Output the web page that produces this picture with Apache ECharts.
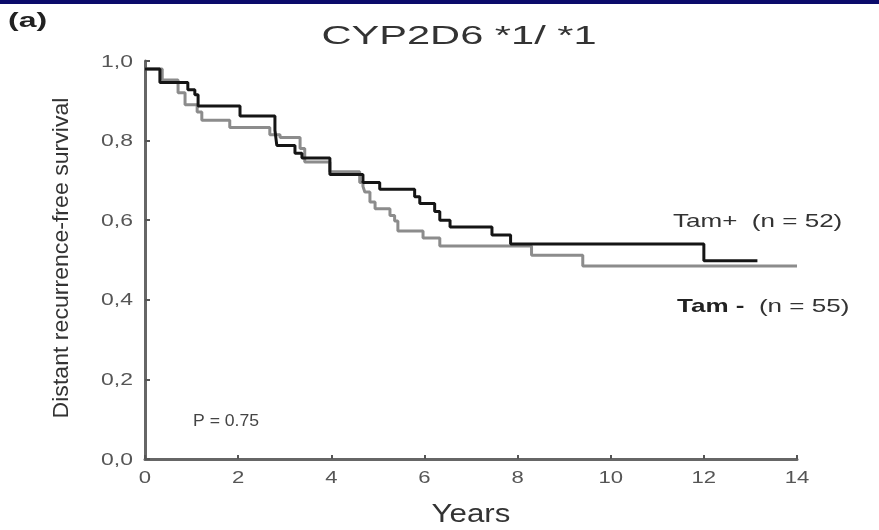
<!DOCTYPE html>
<html>
<head>
    <meta charset="utf-8">
    <title>CYP2D6 *1/ *1</title>
    <script src="https://cdn.jsdelivr.net/npm/echarts@6/dist/echarts.min.js"></script>
    <style>
        * {
            margin: 0;
            padding: 0;
        }
        #main {
            width: 879px;
            height: 530px;
            background: #fff;
        }
    </style>
</head>
<body>
<div id="main"></div>
<script>
    // step points: [years, survival] - value holds from that year on
    var tamPlus = [
        [0, 0.98], [0.32, 0.946], [0.92, 0.928], [1.07, 0.915], [1.14, 0.887],
        [2.04, 0.862], [2.79, 0.826], [2.83, 0.788], [3.22, 0.768], [3.37, 0.756],
        [3.97, 0.715], [4.68, 0.695], [5.04, 0.678], [5.79, 0.659], [5.90, 0.642],
        [6.22, 0.622], [6.33, 0.60], [6.55, 0.583], [7.45, 0.563], [7.85, 0.54],
        [12.0, 0.498], [13.15, 0.498]
    ];
    var tamMinus = [
        [0, 0.98], [0.37, 0.952], [0.71, 0.92], [0.86, 0.89], [1.12, 0.872],
        [1.22, 0.851], [1.82, 0.833], [2.68, 0.815], [2.9, 0.808], [3.33, 0.78],
        [3.43, 0.746], [3.97, 0.722], [4.61, 0.695], [4.68, 0.685], [4.72, 0.671],
        [4.83, 0.646], [4.94, 0.629], [5.26, 0.612], [5.36, 0.598], [5.43, 0.573],
        [5.97, 0.555], [6.33, 0.535], [8.30, 0.512], [9.40, 0.485], [14.0, 0.485]
    ];
    var xTicks = [0, 2, 4, 6, 8, 10, 12, 14];
    var yTicks = [0, 0.2, 0.4, 0.6, 0.8, 1.0];
    var yTickLabels = ['0,0', '0,2', '0,4', '0,6', '0,8', '1,0'];

    var chart = echarts.init(document.getElementById('main'));
    var font = '"Liberation Sans", Arial, sans-serif';

    chart.setOption({
        backgroundColor: '#fff',
        animation: false,
        grid: {
            left: 145,
            right: 82,
            top: 61,
            bottom: 71
        },
        xAxis: {
            type: 'value',
            min: xTicks[0],
            max: xTicks[xTicks.length - 1],
            interval: 2,
            splitLine: { show: false },
            axisLine: { lineStyle: { color: '#666', width: 3 } },
            axisTick: { inside: true, length: 4, lineStyle: { color: '#555', width: 2 } },
            axisLabel: { show: false }
        },
        yAxis: {
            type: 'value',
            min: yTicks[0],
            max: yTicks[yTicks.length - 1],
            interval: 0.2,
            splitLine: { show: false },
            axisLine: { show: true, lineStyle: { color: '#666', width: 3 } },
            axisTick: { show: true, inside: true, length: 5, lineStyle: { color: '#555', width: 2 } },
            axisLabel: { show: false }
        },
        series: [
            {
                name: 'Tam-',
                type: 'line',
                step: 'end',
                symbol: 'none',
                data: tamMinus,
                lineStyle: { color: '#8c8c8c', width: 3 }
            },
            {
                name: 'Tam+',
                type: 'line',
                step: 'end',
                symbol: 'none',
                data: tamPlus,
                lineStyle: { color: '#151515', width: 3 }
            }
        ]
    });

    // the picture's lettering is stretched sideways, so texts are drawn with scaleX
    function label(text, x, y, size, sx, opts) {
        opts = opts || {};
        return {
            type: 'text',
            x: x,
            y: y,
            scaleX: sx,
            rotation: opts.rotation || 0,
            style: {
                text: text,
                font: (opts.weight || 'normal') + ' ' + size + 'px ' + font,
                fill: opts.color || '#333',
                align: opts.align || 'center',
                verticalAlign: 'middle',
                rich: opts.rich
            }
        };
    }

    var graphics = [
        { type: 'rect', shape: { x: 0, y: 0, width: 879, height: 4 }, style: { fill: '#0b0b6b' } },
        label('(a)', 8, 21, 20, 1.6, { align: 'left', weight: 'bold', color: '#222' }),
        label('CYP2D6 *1/ *1', 459, 37, 26, 1.6),
        label('Years', 471, 515, 25, 1.25),
        label('Distant recurrence-free survival', 62, 258, 22, 1.05, { rotation: Math.PI / 2 }),
        label('Tam+  (n = 52)', 673, 222, 19, 1.37, { align: 'left' }),
        label('{b|Tam -}  (n = 55)', 677, 307, 19, 1.37, {
            align: 'left',
            rich: { b: { fontFamily: font, fontSize: 19, fontWeight: 'bold', fill: '#222' } }
        }),
        label('P = 0.75', 193, 422, 16, 1.1, { align: 'left', color: '#444' })
    ];
    xTicks.forEach(function (t) {
        var p = chart.convertToPixel({ gridIndex: 0 }, [t, 0]);
        graphics.push(label(String(t), p[0], 478, 17, 1.3, { color: '#555' }));
    });
    yTicks.forEach(function (t, i) {
        var p = chart.convertToPixel({ gridIndex: 0 }, [0, t]);
        graphics.push(label(yTickLabels[i], 133, p[1] + 1, 17, 1.35, { align: 'right', color: '#555' }));
    });
    chart.setOption({ graphic: graphics });
</script>

</body>
</html>
